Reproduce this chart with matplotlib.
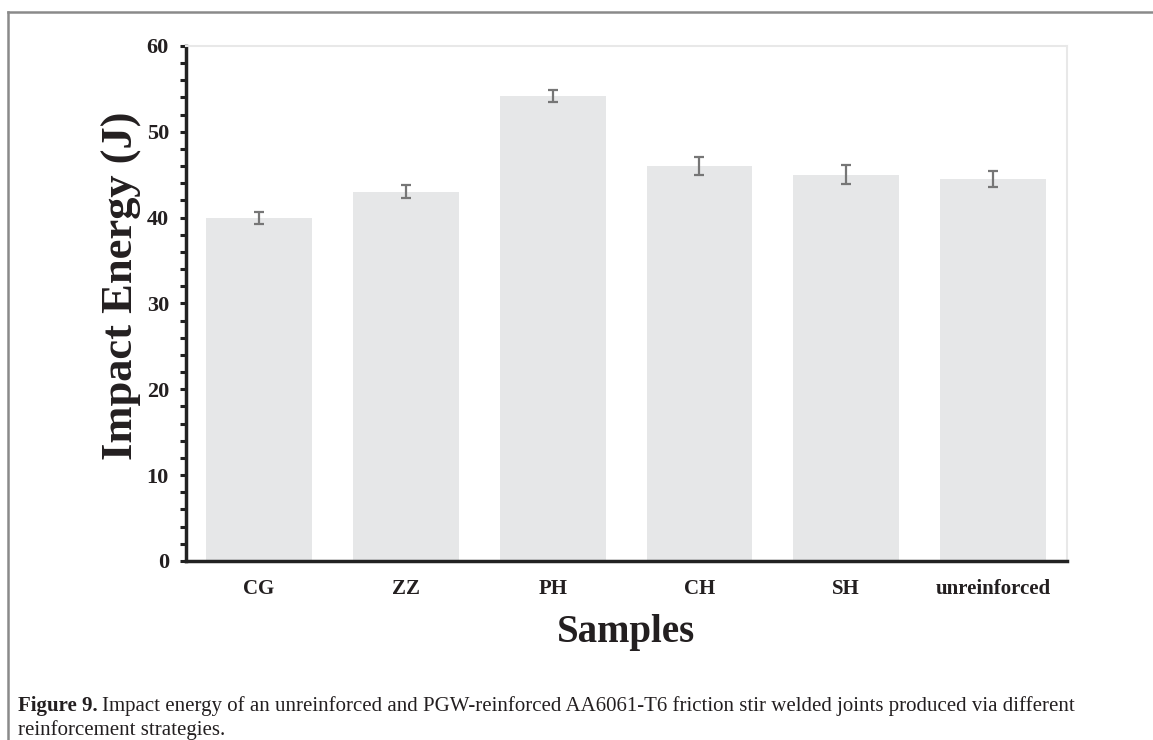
import numpy as np
import matplotlib.pyplot as plt
from matplotlib.ticker import MultipleLocator
from matplotlib.lines import Line2D

samples = ['CG', 'ZZ', 'PH', 'CH', 'SH', 'unreinforced']
energy = [40.0, 43.0, 54.2, 46.0, 45.0, 44.5]
err = [0.7, 0.75, 0.7, 1.05, 1.1, 0.95]

plt.rcParams['font.family'] = ['Liberation Serif', 'DejaVu Serif']

fig = plt.figure(figsize=(11.53, 7.40), dpi=100)
ax = fig.add_axes([0.161, 0.242, 0.764, 0.696])

x = np.arange(len(samples))
ax.bar(x, energy, width=0.72, color='#e6e7e8')
ax.errorbar(x, energy, yerr=err, fmt='none', ecolor='#767676', elinewidth=1.6,
            capsize=3.5, capthick=1.6)

ax.set_xlim(-0.5, len(samples) - 0.5)
ax.set_ylim(0, 60)
ax.yaxis.set_major_locator(MultipleLocator(10))
ax.yaxis.set_minor_locator(MultipleLocator(2))
ax.tick_params(axis='y', which='both', direction='out', length=4, width=2.2,
               color='#222222', labelsize=16, pad=8)
ax.tick_params(axis='x', length=0, labelsize=15, pad=13)
ax.set_xticks(x)
ax.set_xticklabels(samples, fontweight='bold', color='#231f20')
for lab in ax.get_yticklabels():
    lab.set_fontweight('bold')
    lab.set_color('#231f20')

for s in ['top', 'right']:
    ax.spines[s].set_color('#e8e8e8')
    ax.spines[s].set_linewidth(1.5)
for s in ['left', 'bottom']:
    ax.spines[s].set_color('#222222')
    ax.spines[s].set_linewidth(2.5)

ax.set_xlabel('Samples', fontsize=28, fontweight='bold', labelpad=11, color='#231f20')
ax.set_ylabel('Impact Energy (J)', fontsize=32, fontweight='bold', color='#231f20')
ax.yaxis.set_label_coords(-0.05, 0.534)

# page frame
fig.add_artist(Line2D([8 / 1153, 1], [1 - 12 / 740, 1 - 12 / 740],
                      color='#8a8a8a', lw=1.8, transform=fig.transFigure))
fig.add_artist(Line2D([8 / 1153, 8 / 1153], [0, 1 - 12 / 740],
                      color='#8a8a8a', lw=1.8, transform=fig.transFigure))

# caption
r = fig.canvas.get_renderer()
t1 = fig.text(18 / 1153, 1 - 706 / 740, 'Figure 9.', fontsize=15, fontweight='bold',
              va='center', ha='left', color='#231f20')
bb = t1.get_window_extent(renderer=r)
fig.text((bb.x1 + 4) / 1153, 1 - 706 / 740,
         'Impact energy of an unreinforced and PGW-reinforced AA6061-T6 '
         'friction stir welded joints produced via different', fontsize=15,
         va='center', ha='left', color='#231f20')
fig.text(18 / 1153, 1 - 730 / 740, 'reinforcement strategies.', fontsize=15,
         va='center', ha='left', color='#231f20')

fig.savefig('out.png', dpi=100)
